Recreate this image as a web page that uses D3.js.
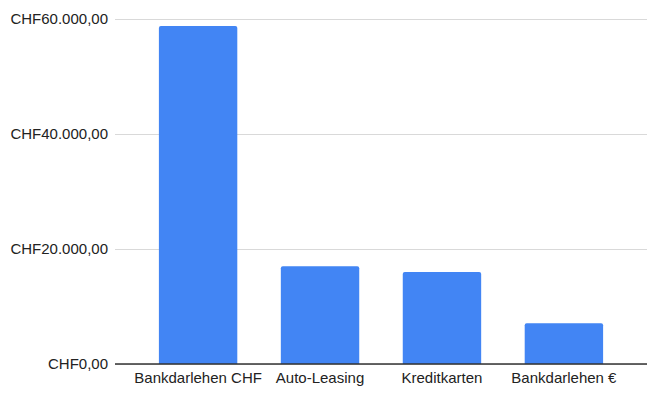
<!DOCTYPE html>
<html>
<head>
<meta charset="utf-8">
<script src="https://cdn.jsdelivr.net/npm/d3@7"></script>
<style>
  body { margin: 0; background: #fff; }
  text { font-family: "Liberation Sans", Arial, sans-serif; fill: #222; }
</style>
</head>
<body>
<div id="chart"></div>
<script>
const categories = ['Bankdarlehen CHF', 'Auto-Leasing', 'Kreditkarten', 'Bankdarlehen €'];
const values = [58800, 17000, 16000, 7100];
const yTicks = [0, 20000, 40000, 60000];

const width = 660;
const height = 394;
const plotLeft = 115, plotRight = 647, plotTop = 19, plotBottom = 364;
const fontSize = 15;

let svg = d3.select('#chart').append('svg')
    .attr('width', width)
    .attr('height', height);

let x = d3.scaleBand()
    .domain(categories)
    .range([plotLeft, plotRight])
    .paddingInner(0.357)
    .paddingOuter(0.36);

let y = d3.scaleLinear()
    .domain([0, 60000])
    .range([plotBottom, plotTop]);

// german number format: CHF60.000,00
const fmt = d3.formatLocale({decimal: ',', thousands: '.', grouping: [3], currency: ['CHF', '']});
const money = fmt.format('$,.2f');

// gridlines + y labels
let yAxis = d3.axisLeft(y)
    .tickValues(yTicks)
    .tickSize(-(plotRight - plotLeft))
    .tickPadding(7)
    .tickFormat(money);

let gy = svg.append('g')
    .attr('transform', 'translate(' + plotLeft + ',0)')
    .call(yAxis);
gy.select('.domain').remove();
gy.selectAll('.tick line').attr('stroke', '#d9d9d9').attr('stroke-width', 1);
gy.selectAll('.tick text')
    .attr('font-size', fontSize)
    .attr('fill', '#222')
    .style('font-family', '"Liberation Sans", Arial, sans-serif');

// bars
svg.selectAll('path.bar')
    .data(values)
    .enter()
    .append('path')
    .attr('class', 'bar')
    .attr('fill', '#4285f4')
    .attr('d', function (d, i) {
      const x0 = x(categories[i]), w = x.bandwidth();
      const y0 = y(d), r = 2;
      return 'M' + x0 + ',' + plotBottom +
          'V' + (y0 + r) +
          'Q' + x0 + ',' + y0 + ' ' + (x0 + r) + ',' + y0 +
          'H' + (x0 + w - r) +
          'Q' + (x0 + w) + ',' + y0 + ' ' + (x0 + w) + ',' + (y0 + r) +
          'V' + plotBottom + 'Z';
    });

// baseline
svg.append('line')
    .attr('x1', plotLeft)
    .attr('x2', plotRight)
    .attr('y1', y(0))
    .attr('y2', y(0))
    .attr('stroke', '#333')
    .attr('stroke-width', 1.5);

// x labels
let gx = svg.append('g')
    .attr('transform', 'translate(0,' + plotBottom + ')')
    .call(d3.axisBottom(x).tickSize(0).tickPadding(8));
gx.select('.domain').remove();
gx.selectAll('.tick text')
    .attr('font-size', fontSize)
    .attr('fill', '#222')
    .style('font-family', '"Liberation Sans", Arial, sans-serif');
</script>
</body>
</html>
